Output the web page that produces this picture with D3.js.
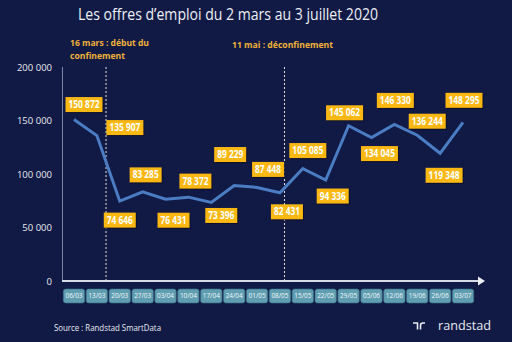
<!DOCTYPE html>
<html>
<head>
<meta charset="utf-8">
<script src="https://d3js.org/d3.v7.min.js"></script>
<style>
    body { margin: 0; background: #111a45; }
    svg { display: block; }
</style>
</head>
<body>
<div id="chart"></div>
<script>

// data
var weeks = ["06/03","13/03","20/03","27/03","03/04","10/04","17/04","24/04","01/05",
             "08/05","15/05","22/05","29/05","05/06","12/06","19/06","26/06","03/07"];
var offres = [150872, 135907, 74646, 83285, 76431, 78372, 73396, 89229, 87448,
              82431, 105085, 94336, 145062, 134045, 146330, 136244, 119348, 148295];
var yTicks = [0, 50000, 100000, 150000, 200000];
// events: position in week index
var eventPos = [1.4, 9.2];
var eventText = [["16 mars : début du", "confinement"], ["11 mai : déconfinement"]];

// label placement (offset from point, px)
var labelDx = [10, 28, 0, 3, 8, 7, 10, -4, 11, 7, 5, 7, -4, 8, 1, 10, 4, 1];
var labelDy = [-15, -8, 19, -17, 21, -16, 13, -31, -18, 19, -18, 16, -13, 16, -24, -14, 22, -22];

var W = 512, H = 342;
var svg = d3.select("#chart").append("svg")
    .attr("width", W).attr("height", H);

svg.append("rect").attr("width", W).attr("height", H).attr("fill", "#111a45");

var x = d3.scaleLinear().domain([0, weeks.length - 1]).range([74, 463]);
var y = d3.scaleLinear().domain([0, 200000]).range([281, 67]);
var fmt = function(v) { return d3.format(",")(v).replace(/,/g, " "); };

// title
svg.append("text")
    .attr("x", 78).attr("y", 20)
    .attr("textLength", 300).attr("lengthAdjust", "spacingAndGlyphs")
    .style("font-family", "'Open Sans', sans-serif")
    .style("font-size", "15.5px")
    .style("fill", "#eef0f6")
    .text("Les offres d\u2019emploi du 2 mars au 3 juillet 2020");

// y axis labels
var yAxis = d3.axisLeft(y).tickValues(yTicks).tickFormat(fmt).tickSize(0).tickPadding(0);
var gy = svg.append("g").attr("transform", "translate(52,0)").call(yAxis);
gy.select(".domain").remove();
gy.selectAll("text")
    .style("font-family", "'Open Sans', sans-serif")
    .style("font-size", "9.5px")
    .style("fill", "#e8eaf0");

// y axis line
svg.append("line")
    .attr("x1", 62.5).attr("x2", 62.5)
    .attr("y1", y(200000)).attr("y2", y(0))
    .style("stroke", "#7d86a6").style("stroke-width", 1);

// event dashed lines + annotations
eventPos.forEach(function(p, i) {
    svg.append("line")
        .attr("x1", x(p)).attr("x2", x(p))
        .attr("y1", y(200000)).attr("y2", y(0))
        .style("stroke", "#e8e4d8").style("stroke-width", 1)
        .style("stroke-dasharray", "2,2");
});
svg.append("text").attr("x", 70).attr("y", 46)
    .attr("textLength", 79).attr("lengthAdjust", "spacingAndGlyphs")
    .style("font-family", "'Open Sans', sans-serif").style("font-weight", "bold")
    .style("font-size", "8.5px").style("fill", "#f2b23a")
    .text(eventText[0][0]);
svg.append("text").attr("x", 70).attr("y", 59)
    .attr("textLength", 55).attr("lengthAdjust", "spacingAndGlyphs")
    .style("font-family", "'Open Sans', sans-serif").style("font-weight", "bold")
    .style("font-size", "8.5px").style("fill", "#f2b23a")
    .text(eventText[0][1]);
svg.append("text").attr("x", 232).attr("y", 48)
    .attr("textLength", 101).attr("lengthAdjust", "spacingAndGlyphs")
    .style("font-family", "'Open Sans', sans-serif").style("font-weight", "bold")
    .style("font-size", "8.5px").style("fill", "#f2b23a")
    .text(eventText[1][0]);

// x axis with arrow
svg.append("line")
    .attr("x1", 62).attr("x2", 478)
    .attr("y1", y(0)).attr("y2", y(0))
    .style("stroke", "#d6dae6").style("stroke-width", 1.8);
svg.append("path")
    .attr("d", "M478,276.5 L485," + y(0) + " L478,285.5 Z")
    .style("fill", "#eef0f6");

// week boxes
var tb = svg.selectAll(".wk").data(weeks).enter().append("g")
    .attr("transform", function(d, i) { return "translate(" + x(i) + ",296)"; });
tb.append("rect")
    .attr("x", -10.7).attr("y", -7).attr("width", 21.4).attr("height", 14).attr("rx", 2.5)
    .style("fill", "#5f9db0").style("stroke", "#3d6d86").style("stroke-width", 0.6);
tb.append("text")
    .attr("text-anchor", "middle").attr("dy", "0.35em")
    .attr("textLength", 17).attr("lengthAdjust", "spacingAndGlyphs")
    .style("font-family", "'Open Sans', sans-serif")
    .style("font-size", "6.5px").style("fill", "#f4f8fa")
    .text(function(d) { return d; });

// line
var line = d3.line()
    .x(function(d, i) { return x(i); })
    .y(function(d) { return y(d); });
svg.append("path").datum(offres)
    .attr("d", line)
    .style("fill", "none").style("stroke", "#4a7dc4").style("stroke-width", 3)
    .style("stroke-linejoin", "miter");

// value labels
var lb = svg.selectAll(".lbl").data(offres).enter().append("g")
    .attr("transform", function(d, i) {
        return "translate(" + (x(i) + labelDx[i]) + "," + (y(d) + labelDy[i]) + ")";
    });
lb.append("rect")
    .attr("x", function(d) { return (d >= 100000 ? -18.5 : -16) + 1; })
    .attr("width", function(d) { return d >= 100000 ? 37 : 32; })
    .attr("y", -6.5).attr("height", 15)
    .style("fill", "#070c24").style("opacity", 0.8);
lb.append("rect")
    .attr("x", function(d) { return d >= 100000 ? -18.5 : -16; })
    .attr("width", function(d) { return d >= 100000 ? 37 : 32; })
    .attr("y", -7.5).attr("height", 15)
    .style("fill", "#fbb813");
lb.append("text")
    .attr("text-anchor", "middle").attr("dy", "0.36em")
    .attr("textLength", function(d) { return d >= 100000 ? 31 : 26; })
    .attr("lengthAdjust", "spacingAndGlyphs")
    .style("font-family", "'Open Sans', sans-serif").style("font-weight", "bold")
    .style("font-size", "10px").style("fill", "#ffffff")
    .text(fmt);

// source
svg.append("text").attr("x", 54).attr("y", 331)
    .attr("textLength", 107).attr("lengthAdjust", "spacingAndGlyphs")
    .style("font-family", "'Open Sans', sans-serif")
    .style("font-size", "8.5px").style("fill", "#e8eaf0")
    .text("Source : Randstad SmartData");

// randstad logo
var logo = svg.append("g").attr("transform", "translate(413,326)")
    .style("fill", "none").style("stroke", "#e8eaf0").style("stroke-width", 1.6);
logo.append("path").attr("d", "M0,-3 H4.5 V3.5");
logo.append("path").attr("d", "M7.5,3.5 V-0.5 Q7.5,-3 10,-3 H12");
svg.append("text").attr("x", 438).attr("y", 330)
    .attr("textLength", 53).attr("lengthAdjust", "spacingAndGlyphs")
    .style("font-family", "'Open Sans', sans-serif")
    .style("font-size", "13px").style("fill", "#e8eaf0")
    .text("randstad");

</script>
</body>
</html>
